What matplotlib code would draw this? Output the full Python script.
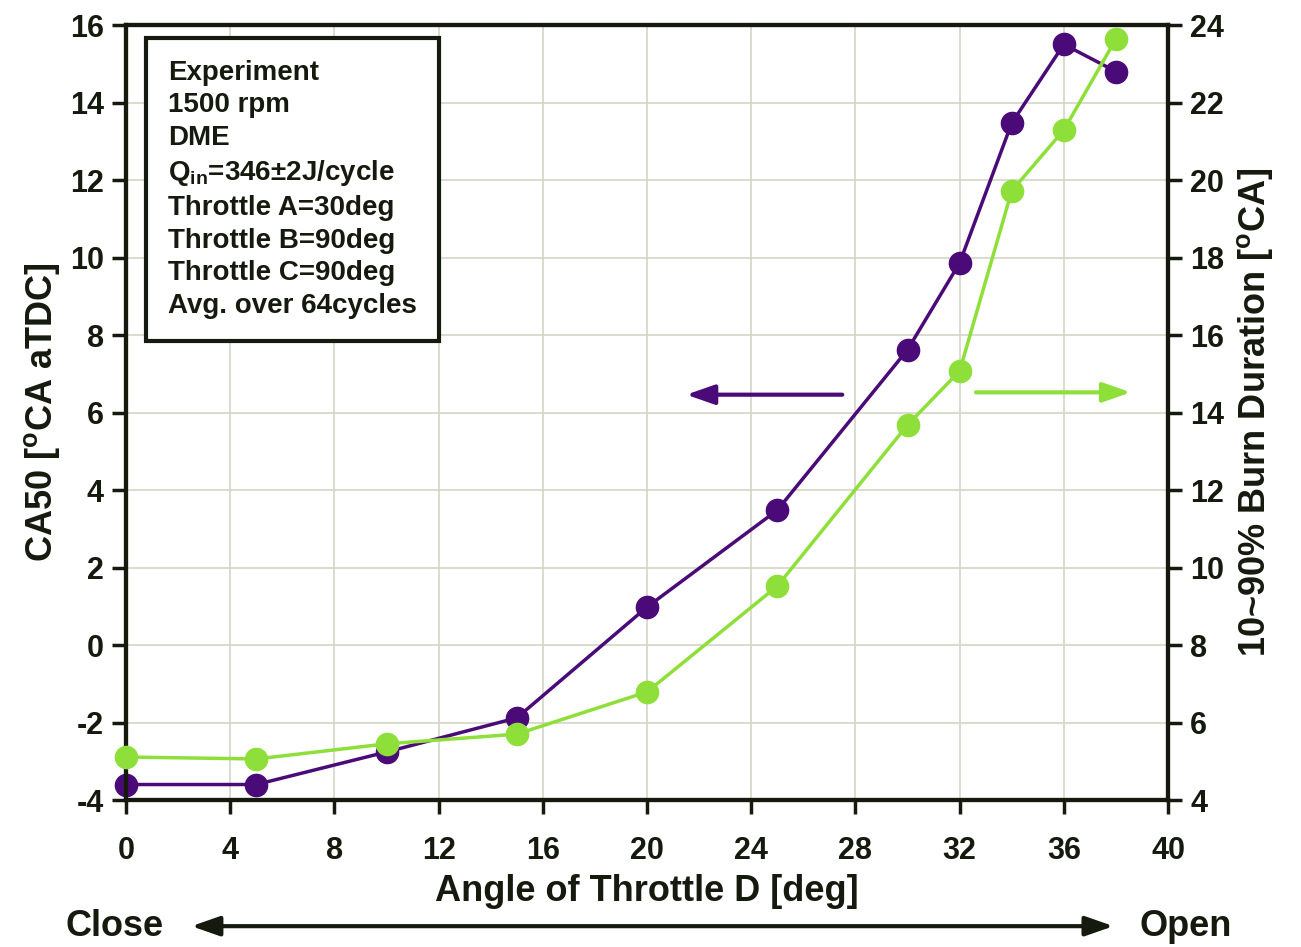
import numpy as np
import matplotlib
matplotlib.use("Agg")
import matplotlib.pyplot as plt

# Data
angle = [0, 5, 10, 15, 20, 25, 30, 32, 34, 36, 38]
ca50 = [-3.6, -3.6, -2.76, -1.88, 0.98, 3.48, 7.62, 9.86, 13.47, 15.5, 14.8]
burn_duration = [5.11, 5.06, 5.45, 5.7, 6.79, 9.52, 13.68, 15.07, 19.72, 21.29, 23.64]

x_ticks = list(range(0, 41, 4))
left_ticks = list(range(-4, 17, 2))
right_ticks = list(range(4, 25, 2))

info_lines = [
    "Experiment",
    "1500 rpm",
    "DME",
    r"$\mathbf{Q_{in}}$=346$\pm$2J/cycle",
    "Throttle A=30deg",
    "Throttle B=90deg",
    "Throttle C=90deg",
    "Avg. over 64cycles",
]

purple = "#4a0b78"
green = "#8fdf3a"
ink = "#161a0e"

plt.rcParams["font.family"] = ["Liberation Sans", "DejaVu Sans"]
plt.rcParams["font.weight"] = "bold"
plt.rcParams["axes.labelweight"] = "bold"
plt.rcParams["axes.unicode_minus"] = False
plt.rcParams["mathtext.fontset"] = "custom"
plt.rcParams["mathtext.rm"] = "Liberation Sans:bold"
plt.rcParams["mathtext.bf"] = "Liberation Sans:bold"
plt.rcParams["mathtext.it"] = "Liberation Sans:bold"

fig = plt.figure(figsize=(13.01, 9.47), dpi=100)
ax = fig.add_axes([0.0969, 0.1552, 0.8009, 0.8184])
ax2 = ax.twinx()

ax.plot(angle, ca50, color=purple, lw=2.5, marker="o", ms=16, zorder=4,
        clip_on=False)
ax2.plot(angle, burn_duration, color=green, lw=2.5, marker="o", ms=16, zorder=3,
         clip_on=False)

ax.set_xlim(0, 40)
ax.set_ylim(-4, 16)
ax2.set_ylim(4, 24)
ax.set_xticks(x_ticks)
ax.set_yticks(left_ticks)
ax2.set_yticks(right_ticks)

ax.grid(True, color="#d4d4c6", lw=1.2)
ax.set_axisbelow(True)

for a in (ax, ax2):
    for s in a.spines.values():
        s.set_linewidth(3)
        s.set_color(ink)
    a.tick_params(width=2.5, length=10, direction="out", colors=ink,
                  labelsize=22, pad=6)
ax.tick_params(axis="x", pad=16)

ax.set_xlabel("Angle of Throttle D [deg]", fontsize=26, color=ink, labelpad=6)
ax.set_ylabel(r"CA50 [$^\mathrm{o}$CA aTDC]", fontsize=26, color=ink, labelpad=6)
ax2.set_ylabel(r"10~90% Burn Duration [$^\mathrm{o}$CA]", fontsize=26,
               color=ink, labelpad=8)

# info box
ax.text(0.04, 0.955, "\n".join(info_lines), transform=ax.transAxes,
        fontsize=20, color=ink, va="top", ha="left", linespacing=1.33,
        bbox=dict(boxstyle="square,pad=0.8", fc="white", ec=ink, lw=3),
        zorder=6)

# direction arrows for the two axes
head = "-|>,head_length=1.0,head_width=0.35"
ax.annotate("", xy=(0.535, 0.523), xytext=(0.69, 0.523), xycoords="axes fraction",
            arrowprops=dict(arrowstyle=head, color=purple, lw=3, mutation_scale=17))
ax.annotate("", xy=(0.967, 0.526), xytext=(0.813, 0.526), xycoords="axes fraction",
            arrowprops=dict(arrowstyle=head, color=green, lw=3, mutation_scale=17))

# close / open arrow under the x axis
fig.text(0.05, 0.022, "Close", fontsize=26, color=ink, ha="left", va="center")
fig.text(0.947, 0.022, "Open", fontsize=26, color=ink, ha="right", va="center")
fig.patches.append(matplotlib.patches.FancyArrowPatch(
    (0.145, 0.022), (0.858, 0.022), transform=fig.transFigure,
    arrowstyle="<|-|>,head_length=1.0,head_width=0.35", color=ink, lw=3,
    mutation_scale=17))

fig.savefig("out.png", dpi=100)
